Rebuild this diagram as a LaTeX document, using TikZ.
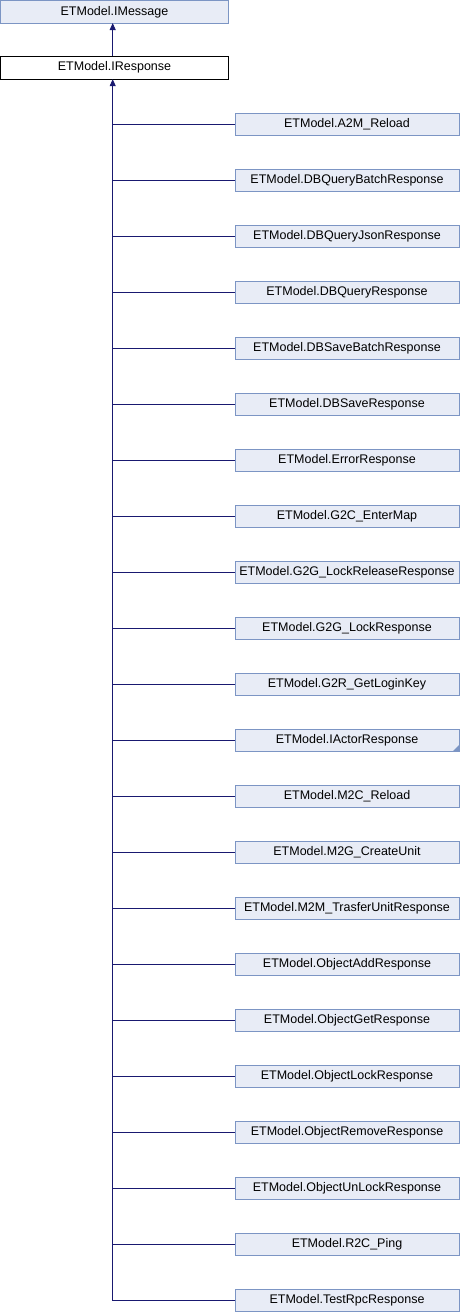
\documentclass[tikz,border=0pt]{standalone}
\usepackage{fontspec}
\setmainfont{Liberation Sans}
\usetikzlibrary{arrows.meta}
\definecolor{edgecol}{RGB}{25,25,112}
\definecolor{boxfill}{RGB}{232,236,246}
\definecolor{boxdraw}{RGB}{124,149,196}
\begin{document}
\begin{tikzpicture}[x=1pt,y=-1pt,
  cls/.style={draw=boxdraw,fill=boxfill,line width=0.9pt,minimum width=224pt,minimum height=22pt,inner sep=0pt,outer sep=0pt,font=\fontsize{12.5}{15}\selectfont},
  cur/.style={draw=black,fill=white,line width=0.9pt,minimum width=228pt,minimum height=23pt,inner sep=0pt,outer sep=0pt,font=\fontsize{12.5}{15}\selectfont},
  edge/.style={draw=edgecol,line width=0.9pt},
  inh/.style={edge,-{Triangle[length=7pt,width=6pt]}}]
\useasboundingbox (0,0) rectangle (460,1312);
\node[cls,minimum width=228pt,minimum height=22.5pt] (IMessage) at (114.5,11.8) {ETModel.IMessage};
\node[cur] (IResponse) at (114.5,67.7) {ETModel.IResponse};
\draw[inh] (IResponse.north -| 112.7,0) -- (IMessage.south -| 112.7,0);
\foreach \nm [count=\i from 0] in {A2M\_Reload,DBQueryBatchResponse,DBQueryJsonResponse,DBQueryResponse,DBSaveBatchResponse,DBSaveResponse,ErrorResponse,G2C\_EnterMap,G2G\_LockReleaseResponse,G2G\_LockResponse,G2R\_GetLoginKey,IActorResponse,M2C\_Reload,M2G\_CreateUnit,M2M\_TrasferUnitResponse,ObjectAddResponse,ObjectGetResponse,ObjectLockResponse,ObjectRemoveResponse,ObjectUnLockResponse,R2C\_Ping,TestRpcResponse}{
  \node[cls] (c\i) at (347,124+56*\i) {ETModel.\nm};
}
\foreach \i in {0,...,20}{
  \draw[edge] (c\i.west -| 112.7,0) -- (c\i.west);
}
\coordinate (trunktop) at (112.7,79.2);
\draw[inh] (c21.west) -| (trunktop);
\fill[boxdraw] (c11.south east) -- ++(0,-6) -- ++(-6,6) -- cycle;
\end{tikzpicture}
\end{document}
